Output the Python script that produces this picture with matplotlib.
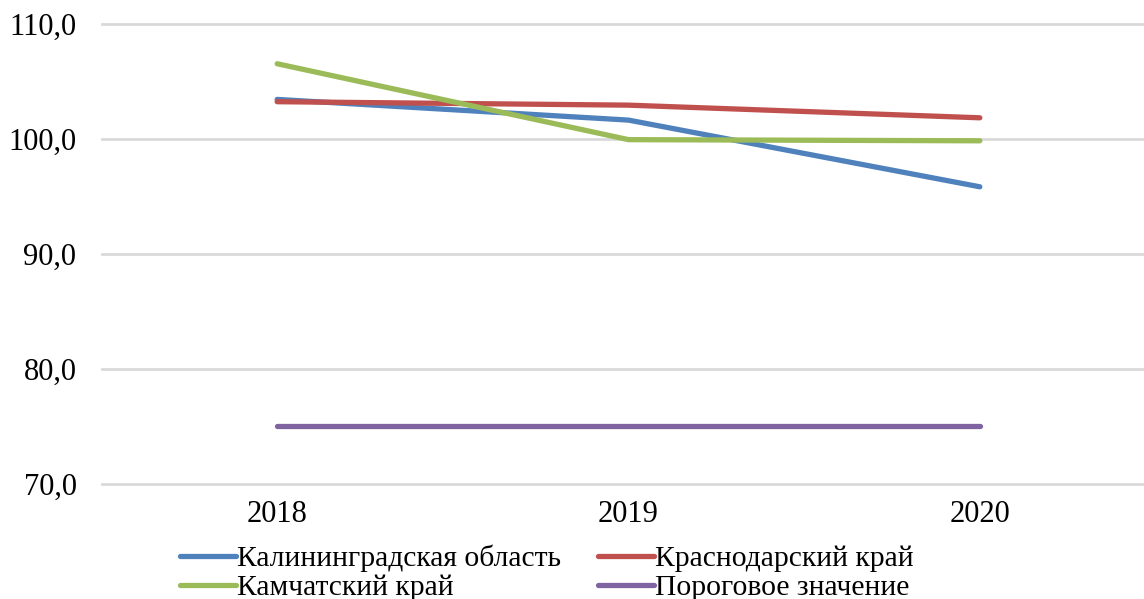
import matplotlib.pyplot as plt

# данные
years = ['2018', '2019', '2020']
kaliningrad = [103.4, 101.6, 95.8]
krasnodar = [103.2, 102.9, 101.8]
kamchatka = [106.5, 99.9, 99.8]
threshold = [75.0, 75.0, 75.0]

names = ['Калининградская область', 'Краснодарский край',
         'Камчатский край', 'Пороговое значение']
colors = ['#4F81BD', '#C0504D', '#9BBB59', '#8064A2']

plt.rcParams['font.family'] = ['Liberation Serif', 'DejaVu Serif']

fig = plt.figure(figsize=(11.44, 5.99), dpi=100)
ax = fig.add_axes([101.5 / 1144, 115.5 / 599, 1054 / 1144, 460 / 599])

x = range(len(years))
series = [kaliningrad, krasnodar, kamchatka, threshold]
for vals, name, c in zip(series, names, colors):
    ax.plot(x, vals, color=c, lw=3.8, solid_capstyle='round',
            solid_joinstyle='round', label=name)

ax.set_xlim(-0.5, 2.5)
ax.set_ylim(70, 110)
ax.set_yticks([70, 80, 90, 100, 110])
ax.set_yticklabels([f'{v:.1f}'.replace('.', ',') for v in [70, 80, 90, 100, 110]])
ax.set_xticks(list(x))
ax.set_xticklabels(years)
ax.grid(axis='y', color='#D9D9D9', lw=2)
for gl in ax.get_ygridlines():
    gl.set_clip_on(False)
ax.set_axisbelow(True)
for s in ax.spines.values():
    s.set_visible(False)
ax.tick_params(length=0, labelsize=22)
ax.tick_params(axis='y', pad=18)
ax.tick_params(axis='x', pad=12)

# порядок легенды: по строкам
handles, labels = ax.get_legend_handles_labels()
order = [0, 2, 1, 3]
fig.legend([handles[i] for i in order], [labels[i] for i in order],
           loc='lower left', bbox_to_anchor=(168 / 1144, -14 / 599),
           ncol=2, frameon=False, fontsize=21.3, handlelength=1.9,
           handletextpad=0.03, columnspacing=1.25, labelspacing=0.08,
           borderaxespad=0)

fig.savefig('out.png', dpi=100)
